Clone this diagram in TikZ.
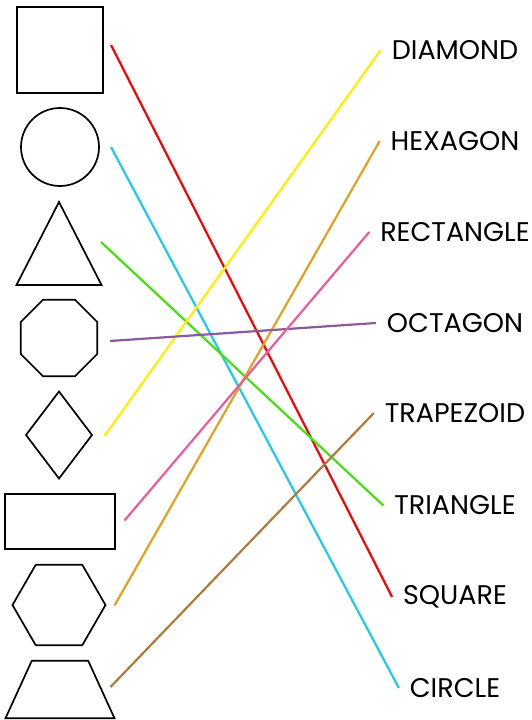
\documentclass[tikz,border=0pt]{standalone}
\usepackage{fontspec}
\setmainfont{Poppins}
\usetikzlibrary{shapes.geometric}
\definecolor{lnred}{HTML}{FF0000}
\definecolor{lncyan}{HTML}{1ECBF0}
\definecolor{lngreen}{HTML}{44E010}
\definecolor{lnpurple}{HTML}{8A5A9A}
\definecolor{lnyellow}{HTML}{FFEE00}
\definecolor{lnpink}{HTML}{EE5A9A}
\definecolor{lnorange}{HTML}{E6A020}
\definecolor{lnbrown}{HTML}{B07A3A}

\tikzset{
  shapebox/.style={draw=black, line width=1.7pt, inner sep=0pt, outer sep=0pt},
  namelabel/.style={font=\fontsize{27}{30}\selectfont, inner sep=0pt, outer sep=11pt},
  matchline/.style={line width=2.2pt}
}

\begin{document}
\begin{tikzpicture}[x=1pt, y=-1pt]
\useasboundingbox (0,0) rectangle (532,720);

% shapes on the left
\node[shapebox, rectangle, minimum width=86pt, minimum height=86pt] (sq) at (60,50) {};
\node[shapebox, circle, minimum size=78pt] (ci) at (60,147) {};
\node[shapebox, isosceles triangle, shape border rotate=90, isosceles triangle stretches,
      minimum width=85pt, minimum height=83pt, anchor=apex] (tr) at (59,202) {};
\node[shapebox, regular polygon, regular polygon sides=8, minimum size=83pt] (oc) at (59,338) {};
\node[shapebox, diamond, minimum width=66pt, minimum height=87pt] (di) at (59,435) {};
\node[shapebox, rectangle, minimum width=110pt, minimum height=55pt] (re) at (60,521.5) {};
\node[shapebox, regular polygon, regular polygon sides=6, minimum size=93pt] (hx) at (59,605) {};
\node[shapebox, trapezium, trapezium angle=65, trapezium stretches=true, inner sep=1pt,
      minimum width=109pt, minimum height=57.5pt] (tz) at (60,689.5) {};

% line starts
\coordinate (s1) at (111,45);
\coordinate (s2) at (111,147);
\coordinate (s3) at (101,242);
\coordinate (s4) at (110,341);
\coordinate (s5) at (104.5,436);
\coordinate (s6) at (124.5,520.5);
\coordinate (s7) at (114.5,605.5);
\coordinate (s8) at (110.5,687);

% names on the right
\node[namelabel] (ldi) at (455,50) {DIAMOND};
\node[namelabel] (lhx) at (455,141) {HEXAGON};
\node[namelabel] (lre) at (455,232) {RECTANGLE};
\node[namelabel] (loc) at (455,323) {OCTAGON};
\node[namelabel] (ltz) at (455,413) {TRAPEZOID};
\node[namelabel] (ltr) at (455,505.5) {TRIANGLE};
\node[namelabel] (lsq) at (455,597) {SQUARE};
\node[namelabel] (lci) at (455,688) {CIRCLE};

% matching lines
\draw[matchline, lnred] (s1) -- (lsq.west);
\draw[matchline, lncyan] (s2) -- (lci.west);
\draw[matchline, lngreen] (s3) -- (ltr.west);
\draw[matchline, lnyellow] (s5) -- (ldi.west);
\draw[matchline, lnorange] (s7) -- (lhx.west);
\draw[matchline, lnbrown] (s8) -- (ltz.west);
\draw[matchline, lnpurple] (s4) -- (loc.west);
\draw[matchline, lnpink] (s6) -- (lre.west);
\end{tikzpicture}
\end{document}
